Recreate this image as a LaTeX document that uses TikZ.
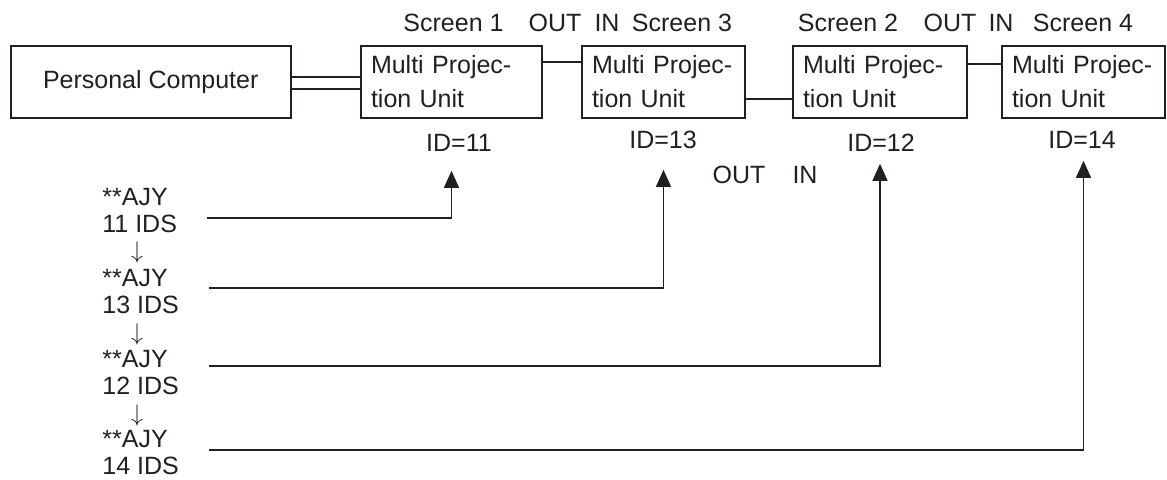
\documentclass[tikz,border=0pt]{standalone}
\usepackage{fontspec}
\setmainfont{Liberation Sans}
\usetikzlibrary{arrows.meta}
\definecolor{ink}{RGB}{35,31,32}
\tikzset{
  >={Triangle[length=8.5pt,width=7.5pt]},
  unit/.style={draw=ink,line width=0.8pt,minimum height=36pt,inner xsep=5pt,inner ysep=2pt,
    text width=#1,align=left,font=\fontsize{12.5}{17}\selectfont,text=ink},
  pcbox/.style={draw=ink,line width=0.8pt,minimum width=140pt,minimum height=36pt,
    font=\fontsize{12.5}{15}\selectfont,text=ink},
  lbl/.style={font=\fontsize{12.5}{15}\selectfont,text=ink,inner sep=0pt},
  cmd/.style={lbl,align=left,anchor=west,font=\fontsize{12.5}{13.5}\selectfont},
  down/.style={lbl,font=\fontsize{12}{12}\selectfont},
  wire/.style={draw=ink,line width=0.7pt},
  feed/.style={->,draw=ink,line width=0.7pt},
}
\begin{document}
\begin{tikzpicture}[x=0.5pt,y=-0.5pt]
  \useasboundingbox (0,0) rectangle (1167,479);
  % units
  \node[pcbox] (pc) at (150.7,82) {Personal Computer};
  \node[unit=80.5pt] (mpu1) at (451.5,82) {Multi Projec-\\tion Unit};
  \node[unit=71.5pt] (mpu2) at (663.5,82) {Multi Projec-\\tion Unit};
  \node[unit=77pt] (mpu3) at (880,82) {Multi Projec-\\tion Unit};
  \node[unit=71.5pt] (mpu4) at (1083.5,82) {Multi Projec-\\tion Unit};
  % screen and port labels
  \node[lbl] (scr1) at (453.5,23) {Screen 1};
  \node[lbl] (out1) at (555,23) {OUT};
  \node[lbl] (in1) at (607,23) {IN};
  \node[lbl] (scr3) at (682,23) {Screen 3};
  \node[lbl] (scr2) at (848,23) {Screen 2};
  \node[lbl] (out2) at (950,23) {OUT};
  \node[lbl] (in2) at (1001,23) {IN};
  \node[lbl] (scr4) at (1083,23) {Screen 4};
  \node[lbl] (out3) at (739,175) {OUT};
  \node[lbl] (in3) at (805,175) {IN};
  % IDs
  \node[lbl] (id11) at (459,143) {ID=11};
  \node[lbl] (id13) at (663,140) {ID=13};
  \node[lbl] (id12) at (881,143) {ID=12};
  \node[lbl] (id14) at (1082,140) {ID=14};
  % commands
  \node[cmd] (c11) at (102,211) {**AJY\\11 IDS};
  \node[down] (d1) at (137,252) {$\downarrow$};
  \node[cmd] (c13) at (102,292) {**AJY\\13 IDS};
  \node[down] (d2) at (137,334) {$\downarrow$};
  \node[cmd] (c12) at (102,373) {**AJY\\12 IDS};
  \node[down] (d3) at (137,415) {$\downarrow$};
  \node[cmd] (c14) at (102,453) {**AJY\\14 IDS};
  % wiring
  \draw[wire] ([yshift=2.5pt]pc.east) -- ([yshift=2.5pt]mpu1.west);
  \draw[wire] ([yshift=-3.5pt]pc.east) -- ([yshift=-3.5pt]mpu1.west);
  \draw[wire] ([yshift=10pt]mpu1.east) -- ([yshift=10pt]mpu2.west);
  \draw[wire] ([yshift=-8.5pt]mpu2.east) -- ([yshift=-8.5pt]mpu3.west);
  \draw[wire] ([yshift=9pt]mpu3.east) -- ([yshift=9pt]mpu4.west);
  \foreach \c/\u/\dy/\gap in {c11/mpu1/7/26pt,c13/mpu2/-4/25.5pt,c12/mpu3/-7/22.5pt,c14/mpu4/-3/21pt}
    \draw[feed,shorten >=\gap] ([shift={(30,\dy)}]\c.east) -| (\u);
\end{tikzpicture}
\end{document}
